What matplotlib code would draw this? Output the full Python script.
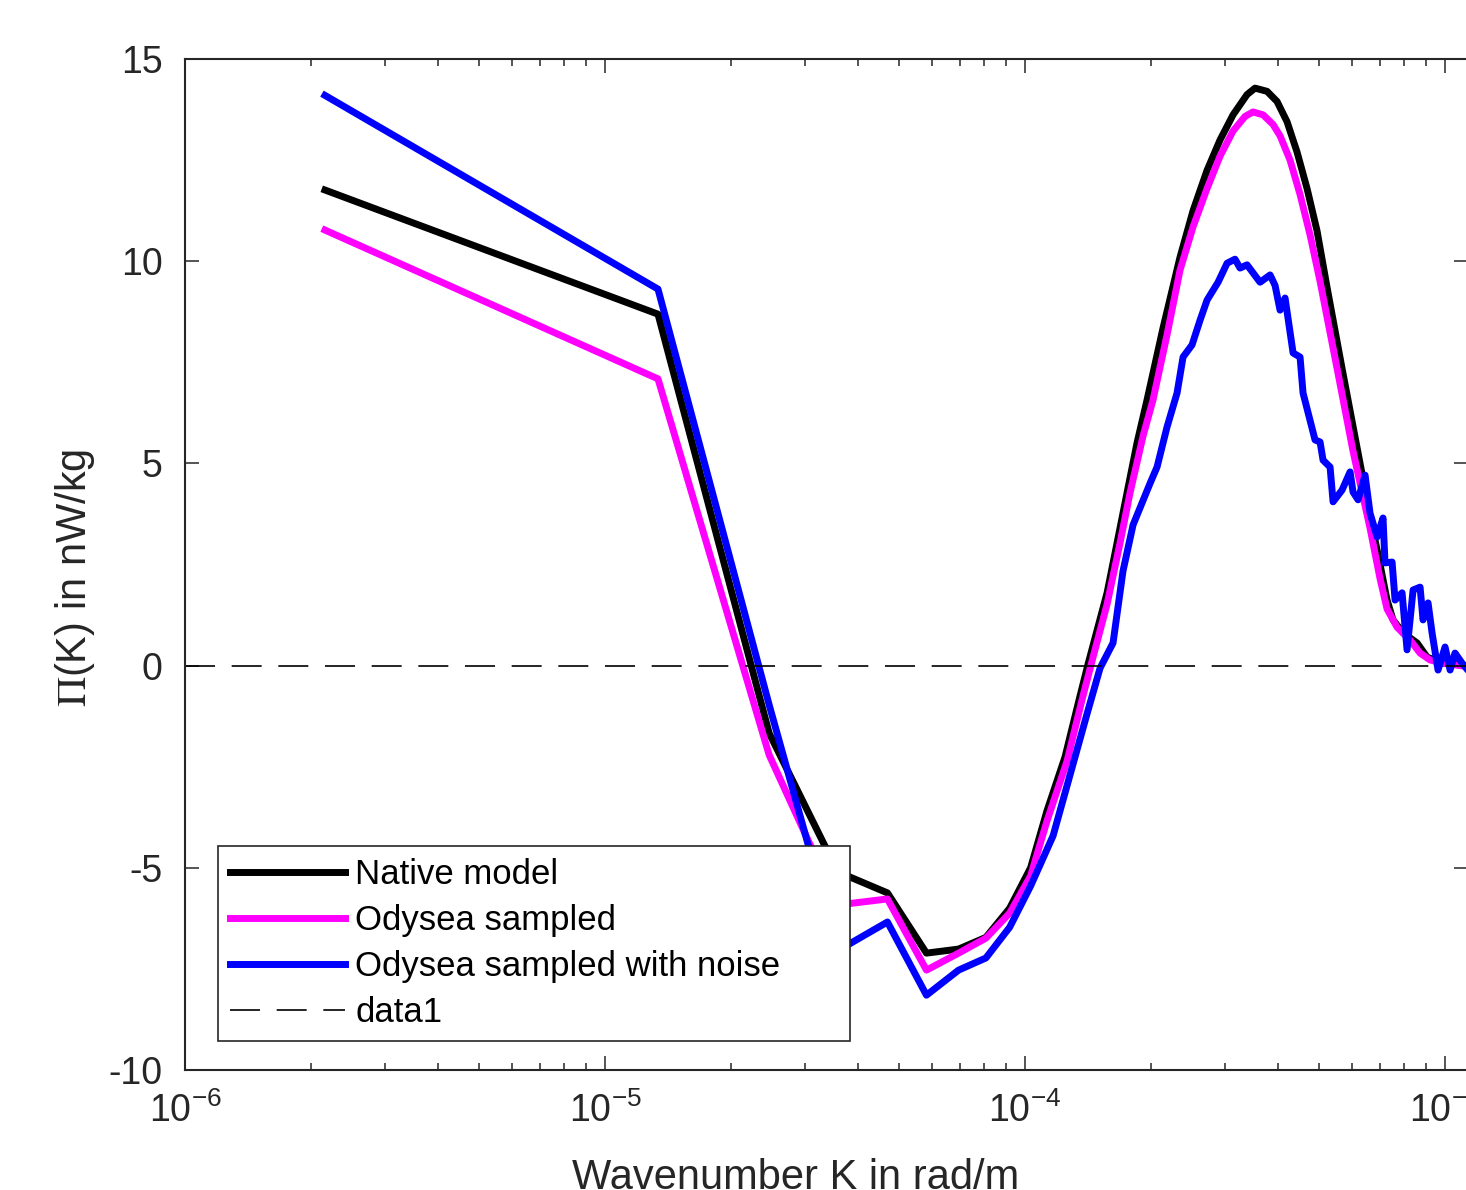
import numpy as np
import matplotlib.pyplot as plt
from matplotlib.ticker import FixedLocator, FixedFormatter, LogLocator, NullFormatter

plt.rcParams['font.family'] = ['Liberation Sans', 'DejaVu Sans']
plt.rcParams['mathtext.fontset'] = 'custom'
plt.rcParams['mathtext.rm'] = 'Liberation Sans'
plt.rcParams['mathtext.it'] = 'Liberation Sans:italic'
plt.rcParams['axes.unicode_minus'] = False

# wavenumber K in units of 1e-5 rad/m, Pi(K) in nW/kg
k_native = [0.2154, 1.337, 2.459, 3.581, 4.703, 5.825, 6.947, 8.069, 9.191, 10.31,
            11.28, 12.45, 13.52, 14.13, 15.68, 16.56, 17.49, 18.48, 19.52, 21.31,
            23.39, 25.12, 27.13, 29.13, 31.28, 33.77, 35.28, 37.69, 39.81, 42.05,
            44.42, 46.92, 49.57, 52.37, 56.85, 62.75, 66.28, 70.02, 72.76, 75.20,
            79.43, 85.77, 90.60, 98.91, 112.2]
pi_native = [11.76, 8.69, -1.67, -5.10, -5.62, -7.11, -7.01, -6.72, -6.00, -5.00,
             -3.59, -2.26, -0.75, 0.04, 1.80, 3.03, 4.27, 5.51, 6.57, 8.35,
             10.10, 11.25, 12.25, 13.00, 13.62, 14.12, 14.28, 14.20, 13.95, 13.45,
             12.70, 11.80, 10.75, 9.35, 7.35, 5.00, 3.70, 2.50, 1.62, 1.13,
             0.81, 0.56, 0.21, 0.06, 0.0]

k_sampled = [0.2154, 1.337, 2.459, 3.581, 4.703, 5.825, 6.947, 8.069, 9.191, 10.31,
             11.28, 12.59, 13.74, 14.52, 15.68, 16.83, 17.78, 19.10, 20.17, 21.8,
             23.39, 25.12, 27.13, 29.13, 31.28, 33.40, 34.90, 36.87, 38.95, 40.47,
             42.75, 45.16, 47.71, 50.40, 55.32, 60.39, 66.28, 70.02, 72.76, 76.87,
             82.54, 87.20, 92.10, 98.91, 112.2]
pi_sampled = [10.77, 7.09, -2.21, -5.92, -5.77, -7.53, -7.11, -6.74, -6.12, -5.20,
              -3.84, -2.36, -0.75, 0.21, 1.52, 3.03, 4.27, 5.68, 6.57, 8.2,
              9.78, 10.85, 11.80, 12.60, 13.22, 13.58, 13.69, 13.62, 13.38, 13.10,
              12.50, 11.65, 10.65, 9.50, 7.35, 5.30, 3.40, 2.15, 1.40, 0.95,
              0.63, 0.31, 0.14, 0.06, -0.02]

k_noise = [0.2154, 1.337, 2.459, 3.581, 4.703, 5.825, 6.947, 8.069, 9.191, 10.31,
           11.66, 12.80, 14.05, 15.09, 16.20, 17.11, 18.08, 19.85, 20.62, 21.78,
           23.01, 23.78, 24.98, 26.10, 27.13, 28.81, 30.27, 31.62, 32.50, 33.77,
           36.27, 38.32, 39.38, 40.47, 41.60, 43.47, 45.16, 45.91, 49.03, 50.40,
           51.23, 53.24, 54.12, 56.85, 59.41, 60.39, 62.07, 64.50, 66.28, 68.89,
           71.17, 71.95, 74.79, 76.03, 79.00, 81.19, 83.92, 87.20, 88.63, 91.10,
           93.12, 96.23, 100.0, 102.8, 105.6, 109.8, 112.2]
pi_noise = [14.10, 9.31, -0.97, -7.05, -6.34, -8.15, -7.53, -7.23, -6.47, -5.45,
            -4.21, -2.70, -1.19, -0.06, 0.56, 2.34, 3.48, 4.51, 4.91, 5.90,
            6.74, 7.63, 7.93, 8.54, 9.04, 9.48, 9.95, 10.05, 9.83, 9.91,
            9.48, 9.66, 9.40, 8.79, 9.09, 7.73, 7.63, 6.74, 5.58, 5.53,
            5.08, 4.91, 4.05, 4.34, 4.79, 4.29, 4.10, 4.71, 3.77, 3.18,
            3.65, 2.54, 2.56, 1.62, 1.80, 0.39, 1.87, 1.94, 1.13, 1.55,
            0.81, -0.11, 0.46, -0.11, 0.31, 0.06, -0.06]

labels = ['Native model', 'Odysea sampled', 'Odysea sampled with noise', 'data1']
xtick_vals = [1e-6, 1e-5, 1e-4, 1e-3]
xtick_labels = [r'$10^{-6}$', r'$10^{-5}$', r'$10^{-4}$', r'$10^{-3}$']
ytick_vals = [-10, -5, 0, 5, 10, 15]

axc = '#262626'

fig = plt.figure(figsize=(14.66, 11.9), dpi=100)
ax = fig.add_axes([185/1466, 120/1190, 1283/1466, 1011/1190])

lw = 5.0
ax.plot(np.array(k_native)*1e-5, pi_native, color='k', lw=lw, label=labels[0],
        solid_joinstyle='round')
ax.plot(np.array(k_sampled)*1e-5, pi_sampled, color='#ff00ff', lw=lw, label=labels[1],
        solid_joinstyle='round')
ax.plot(np.array(k_noise)*1e-5, pi_noise, color='#0000ff', lw=lw, label=labels[2],
        solid_joinstyle='round')
ax.axhline(0, color='k', lw=1.2, dashes=(18, 10), label=labels[3])

ax.set_xscale('log')
ax.set_xlim(1e-6, 1.134e-3)
ax.set_ylim(-10, 15)

ax.xaxis.set_major_locator(FixedLocator(xtick_vals))
ax.xaxis.set_major_formatter(FixedFormatter(xtick_labels))
ax.xaxis.set_minor_locator(LogLocator(base=10, subs=np.arange(2, 10)))
ax.xaxis.set_minor_formatter(NullFormatter())
ax.set_yticks(ytick_vals)
ax.set_yticklabels([str(v) for v in ytick_vals])

ax.tick_params(which='both', direction='in', top=True, right=True, color=axc,
               labelcolor=axc, width=1.1)
ax.tick_params(which='major', length=10, labelsize=27, pad=16)
ax.tick_params(which='minor', length=5)
for s in ax.spines.values():
    s.set_color(axc)
    s.set_linewidth(1.5)

ax.set_xlabel('Wavenumber K in rad/m', fontsize=30, color=axc)
ax.xaxis.set_label_coords(0.476, -0.087)
ax.set_ylabel(r'$\Pi$(K) in nW/kg', fontsize=30, color=axc, math_fontfamily='stix')
ax.yaxis.set_label_coords(-0.0686, 0.487)

leg = ax.legend(loc='lower left', bbox_to_anchor=(0.0257, 0.0287, 0.4926, 0.19),
                mode='expand', fontsize=25, handlelength=3.3, handletextpad=0.3,
                labelspacing=0.37, borderpad=0.35, borderaxespad=0, fancybox=False,
                framealpha=1, edgecolor=axc)
leg.get_frame().set_linewidth(1.2)

fig.savefig('out.png', dpi=100)
